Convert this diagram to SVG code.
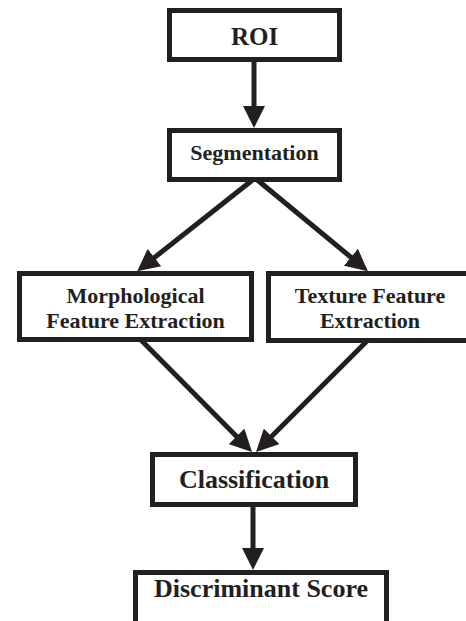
<svg xmlns="http://www.w3.org/2000/svg" width="466" height="621" viewBox="0 0 466 621">
<style>
.box{fill:#fff;stroke:#231f20;stroke-width:5}
.lbl{font-family:"Liberation Serif","Times New Roman",serif;font-weight:bold;fill:#231f20;text-anchor:middle}
.con{stroke:#231f20;stroke-width:5;fill:none;marker-end:url(#ah)}
</style>
<defs>
<marker id="ah" markerUnits="userSpaceOnUse" markerWidth="22" markerHeight="22" refX="10" refY="11" orient="auto">
<path d="M0,0 L22,11 L0,22 z" fill="#231f20"/>
</marker>
</defs>
<rect width="466" height="621" fill="#fff"/>
<g id="connectors">
<line class="con" x1="254" y1="55" x2="254" y2="116"/>
<line class="con" x1="255" y1="178" x2="146.6" y2="263.8"/>
<line class="con" x1="255" y1="178" x2="358.6" y2="263.6"/>
<line class="con" x1="140" y1="339" x2="243.6" y2="443.5"/>
<line class="con" x1="368" y1="340" x2="264.5" y2="443.5"/>
<line class="con" x1="253" y1="502" x2="253" y2="558"/>
</g>
<g id="roi">
<rect class="box" x="169.5" y="10.5" width="170" height="49"/>
<text class="lbl" x="254.5" y="45" font-size="25">ROI</text>
</g>
<g id="segmentation">
<rect class="box" x="169.5" y="130.5" width="170" height="49"/>
<text class="lbl" x="254.5" y="160" font-size="22">Segmentation</text>
</g>
<g id="morphological">
<rect class="box" x="19.5" y="273.5" width="232" height="66"/>
<text class="lbl" x="135.5" y="303" font-size="22">Morphological</text>
<text class="lbl" x="135.5" y="328" font-size="22">Feature Extraction</text>
</g>
<g id="texture">
<rect class="box" x="268.5" y="273.5" width="206" height="67"/>
<text class="lbl" x="370" y="303" font-size="22">Texture Feature</text>
<text class="lbl" x="370" y="328" font-size="22">Extraction</text>
</g>
<g id="classification">
<rect class="box" x="152.5" y="454.5" width="203" height="50"/>
<text class="lbl" x="254" y="488" font-size="26">Classification</text>
</g>
<g id="discriminant">
<rect class="box" x="135.5" y="572.5" width="251" height="80"/>
<text class="lbl" x="261" y="597" font-size="26">Discriminant Score</text>
</g>
</svg>
